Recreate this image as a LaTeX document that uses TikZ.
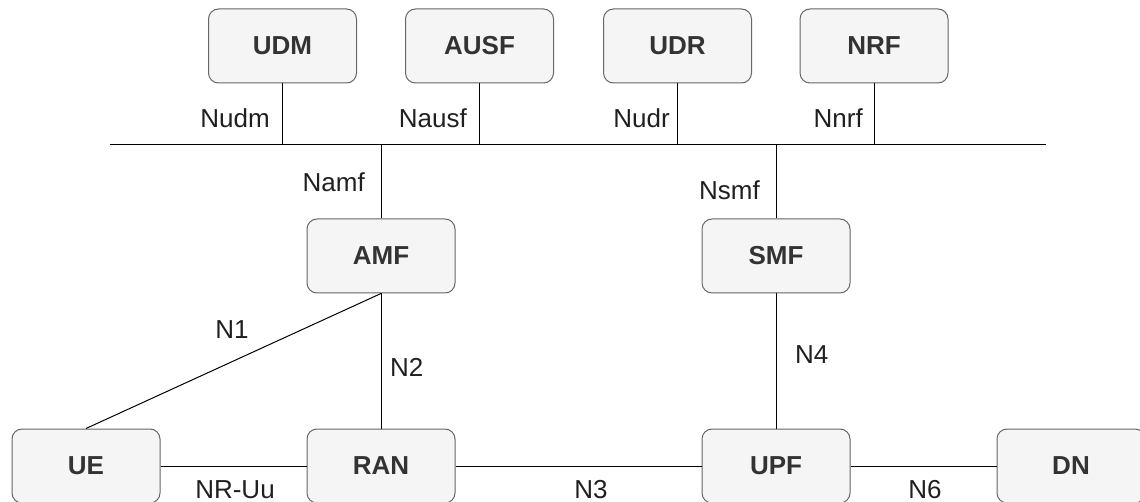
\documentclass[tikz,border=0pt]{standalone}
\usepackage{fontspec}
\setmainfont{Liberation Sans}
\begin{document}
\begin{tikzpicture}[x=1pt,y=-1pt,
  nf/.style={draw=boxborder,fill=boxfill,rounded corners=10pt,line width=1pt,
    minimum width=148pt,minimum height=74pt,inner sep=0pt,
    text=boxtext,font=\fontsize{26}{30}\selectfont\bfseries},
  link/.style={draw=black,line width=1pt},
  lbl/.style={inner sep=0pt,text=black!88,font=\fontsize{26}{30}\selectfont}]
\definecolor{boxfill}{HTML}{F5F5F5}
\definecolor{boxborder}{HTML}{666666}
\definecolor{boxtext}{HTML}{333333}
\useasboundingbox (0,0) rectangle (1140,502);

% service-based bus
\coordinate (busL) at (110,145);
\coordinate (busR) at (1046,145);
\draw[link] (busL) -- (busR);

% network functions
\node[nf] (udm)  at (282.5,46) {UDM};
\node[nf] (ausf) at (479.5,46) {AUSF};
\node[nf] (udr)  at (677.5,46) {UDR};
\node[nf] (nrf)  at (874,46)   {NRF};
\node[nf] (amf)  at (381,256)  {AMF};
\node[nf] (smf)  at (776,256)  {SMF};
\node[nf] (ue)   at (86,466)   {UE};
\node[nf] (ran)  at (381,466)  {RAN};
\node[nf] (upf)  at (776,466)  {UPF};
\node[nf] (dn)   at (1071,466) {DN};

% bus attachments
\draw[link] (udm.south)  -- (udm.south |- busL);
\draw[link] (ausf.south) -- (ausf.south |- busL);
\draw[link] (udr.south)  -- (udr.south |- busL);
\draw[link] (nrf.south)  -- (nrf.south |- busL);
\draw[link] (amf.north)  -- (amf.north |- busL);
\draw[link] (smf.north)  -- (smf.north |- busL);

% reference points
\draw[link] (amf.south) -- (ue.north);
\draw[link] (amf.south) -- (ran.north);
\draw[link] (smf.south) -- (upf.north);
\draw[link] (ue.east)   -- (ran.west);
\draw[link] (ran.east)  -- (upf.west);
\draw[link] (upf.east)  -- (dn.west);

% interface labels
\node[lbl,anchor=base east] (lnudm)  at (270,128) {Nudm};
\node[lbl,anchor=base east] (lnausf) at (467,128) {Nausf};
\node[lbl,anchor=base east] (lnudr)  at (670,128) {Nudr};
\node[lbl,anchor=base east] (lnnrf)  at (863,128) {Nnrf};
\node[lbl,anchor=base east] (lnamf)  at (365,192) {Namf};
\node[lbl,anchor=base east] (lnsmf)  at (760,200) {Nsmf};
\node[lbl,anchor=base]      (ln1)    at (232,338) {N1};
\node[lbl,anchor=base west] (ln2)    at (390,377) {N2};
\node[lbl,anchor=base west] (ln4)    at (795,363) {N4};
\node[lbl,anchor=base]      (lnruu)  at (235,498) {NR-Uu};
\node[lbl,anchor=base]      (ln3)    at (591,498) {N3};
\node[lbl,anchor=base]      (ln6)    at (925,498) {N6};
\end{tikzpicture}
\end{document}
